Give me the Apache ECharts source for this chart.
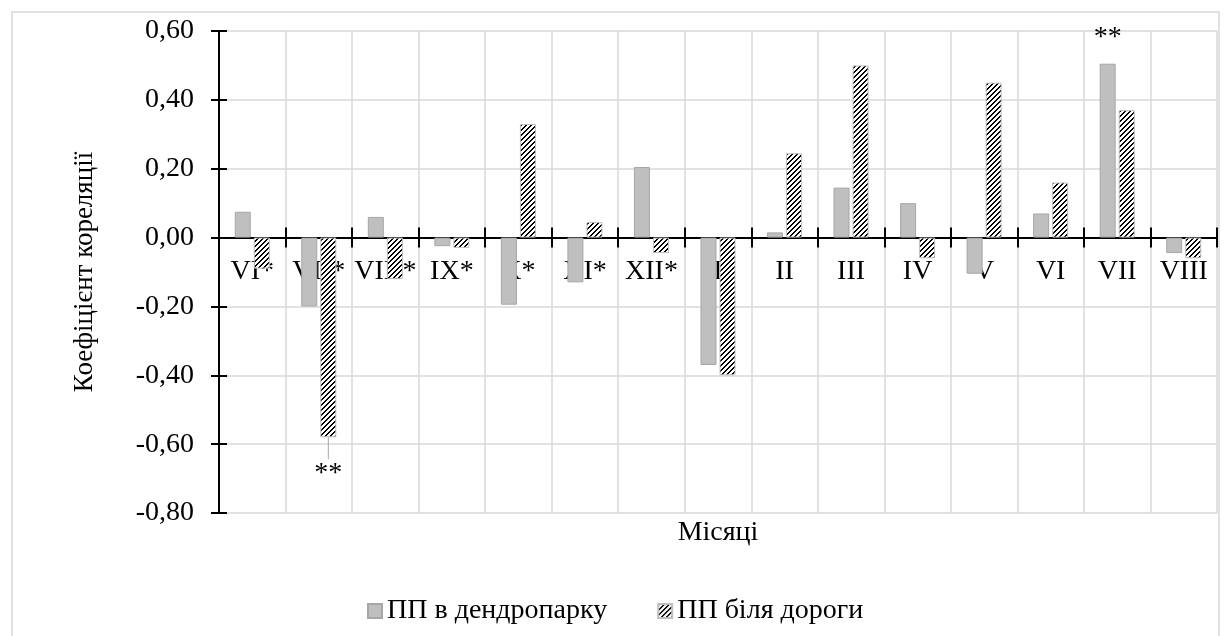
<!DOCTYPE html>
<html>
<head>
<meta charset="utf-8">
<script src="https://cdn.jsdelivr.net/npm/echarts@6/dist/echarts.min.js"></script>
<style>
  html, body { margin: 0; padding: 0; background: #fff; }
  #chart { width: 1224px; height: 636px; }
</style>
</head>
<body>
<div id="chart"></div>
<script>
// дані з рисунка
const months = ['VI*', 'VII*', 'VIII*', 'IX*', 'X*', 'XI*', 'XII*', 'I', 'II', 'III', 'IV', 'V', 'VI', 'VII', 'VIII']
const parkValues = [0.075, -0.20, 0.06, -0.025, -0.195, -0.13, 0.205, -0.37, 0.015, 0.145, 0.10, -0.105, 0.07, 0.505, -0.045]
const roadValues = [-0.09, -0.58, -0.12, -0.03, 0.33, 0.045, -0.045, -0.40, 0.245, 0.50, -0.06, 0.45, 0.16, 0.37, -0.06]
const seriesNames = ['ПП в дендропарку', 'ПП біля дороги']
const yTicks = [-0.8, 0.6, 0.2] // min, max, interval
// позначки значущості: [серія, індекс місяця]
const marks = [[0, 13], [1, 1]]

const FONT = "'Liberation Serif', 'Times New Roman', serif"

// розміри області графіка
const W = 1224, H = 636
const grid = { left: 219, right: 7, top: 31, bottom: 123 }
// вісь категорій проходить через нуль (зсув від нижнього краю)
const plotH = H - grid.top - grid.bottom
const zeroOffset = -plotH * (0 - yTicks[0]) / (yTicks[1] - yTicks[0])

// штрихування для другої серії
function makeHatch() {
  const n = 5
  const c = document.createElement('canvas')
  c.width = n
  c.height = n
  const ctx = c.getContext('2d')
  ctx.fillStyle = '#fff'
  ctx.fillRect(0, 0, n, n)
  ctx.fillStyle = '#000'
  for (let x = 0; x < n; x++) {
    for (let y = 0; y < n; y++) {
      if ((x + y) % n < 2) ctx.fillRect(x, y, 1, 1)
    }
  }
  return c
}
const hatch = { image: makeHatch(), repeat: 'repeat' }

function withMarks(values, sIdx) {
  return values.map((v, i) => {
    const hit = marks.some(m => m[0] === sIdx && m[1] === i)
    if (!hit) return v
    return {
      value: v,
      label: {
        show: true,
        formatter: '**',
        position: v >= 0 ? 'top' : 'bottom',
        distance: v >= 0 ? 12 : 4,
        fontFamily: FONT,
        fontSize: 28,
        color: '#000'
      }
    }
  })
}

const chart = echarts.init(document.getElementById('chart'))

const option = {
  backgroundColor: '#fff',
  animation: false,
  graphic: [{
    type: 'rect',
    shape: { x: 12, y: 12, width: 1207, height: 640 },
    style: { fill: 'none', stroke: '#d9d9d9', lineWidth: 1.5 },
    silent: true
  }],
  grid: Object.assign({ containLabel: false, outerBoundsMode: 'none' }, grid),
  legend: {
    left: 367,
    top: 597,
    padding: 0,
    itemGap: 50,
    itemWidth: 14,
    itemHeight: 14,
    icon: 'rect',
    textStyle: { fontFamily: FONT, fontSize: 28, color: '#000' },
    data: seriesNames
  },
  xAxis: [
    {
      type: 'category',
      data: months,
      position: 'bottom',
      offset: zeroOffset,
      name: 'Місяці',
      nameLocation: 'middle',
      nameGap: 281,
      nameTextStyle: { fontFamily: FONT, fontSize: 28, color: '#000' },
      axisLine: { onZero: false, lineStyle: { color: '#000', width: 2 } },
      axisTick: { show: true, interval: 0, length: 10, lineStyle: { color: '#000', width: 2 } },
      axisLabel: { interval: 0, margin: 20, fontFamily: FONT, fontSize: 28, color: '#000' },
      splitLine: { show: true, interval: 0, lineStyle: { color: '#d9d9d9', width: 1.5 } }
    },
    {
      // внутрішні засічки (перехресні)
      type: 'category',
      data: months,
      position: 'bottom',
      offset: zeroOffset,
      axisLine: { onZero: false, lineStyle: { color: '#000', width: 2 } },
      axisTick: { show: true, inside: true, interval: 0, length: 10, lineStyle: { color: '#000', width: 2 } },
      axisLabel: { show: false },
      splitLine: { show: false }
    }
  ],
  yAxis: [
    {
      type: 'value',
      min: yTicks[0],
      max: yTicks[1],
      interval: yTicks[2],
      position: 'left',
      name: 'Коефіцієнт кореляції',
      nameLocation: 'middle',
      nameGap: 121,
      nameTextStyle: { fontFamily: FONT, fontSize: 27, color: '#000' },
      axisLine: { show: true, lineStyle: { color: '#000', width: 2 } },
      axisTick: { show: true, length: 8, lineStyle: { color: '#000', width: 2 } },
      axisLabel: {
        margin: 25,
        fontFamily: FONT,
        fontSize: 28,
        color: '#000',
        formatter: v => v.toFixed(2).replace('.', ',')
      },
      splitLine: { show: true, lineStyle: { color: '#d9d9d9', width: 1.5 } }
    },
    {
      type: 'value',
      min: yTicks[0],
      max: yTicks[1],
      interval: yTicks[2],
      position: 'left',
      axisLine: { show: true, lineStyle: { color: '#000', width: 2 } },
      axisTick: { show: true, inside: true, length: 8, lineStyle: { color: '#000', width: 2 } },
      axisLabel: { show: false },
      splitLine: { show: false }
    }
  ],
  series: [
    {
      name: seriesNames[0],
      type: 'bar',
      barWidth: 16,
      barGap: '19%',
      itemStyle: { color: '#bfbfbf', borderColor: '#a6a6a6', borderWidth: 1 },
      data: withMarks(parkValues, 0)
    },
    {
      name: seriesNames[1],
      type: 'bar',
      barWidth: 16,
      barGap: '19%',
      itemStyle: { color: hatch, borderColor: '#bfbfbf', borderWidth: 1 },
      // підпис "**" під стовпчиком відсунуто вниз з виносною лінією
      labelLayout: { dy: 18 },
      labelLine: { show: true, lineStyle: { color: '#a6a6a6', width: 1 } },
      data: withMarks(roadValues, 1)
    }
  ]
}

chart.setOption(option)
</script>
</body>
</html>
